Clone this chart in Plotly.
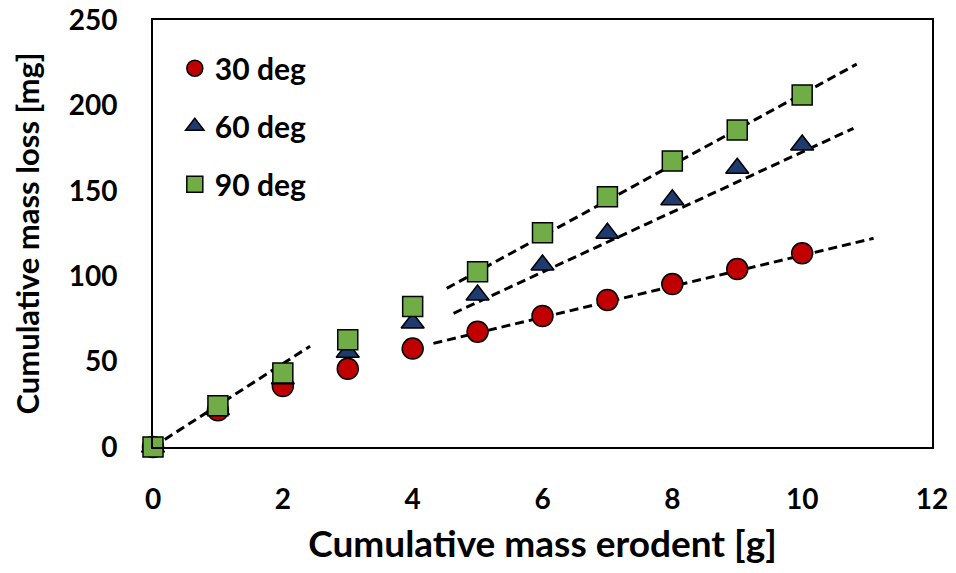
import numpy as np
import plotly.graph_objects as go

# ---- data ----
erodent_g = [0, 1, 2, 3, 4, 5, 6, 7, 8, 9, 10]
loss_30 = [0, 21.5, 35.7, 45.8, 57.6, 67.5, 76.7, 86.1, 95.4, 104.2, 113.4]
loss_60 = [0, 22.0, 40.0, 55.5, 72.6, 89.0, 106.6, 125.1, 144.8, 163.2, 176.8]
loss_90 = [0, 24.2, 43.3, 62.8, 82.2, 102.6, 125.4, 146.5, 167.4, 185.6, 206.1]

# linear trend lines: (x start, x end, slope, intercept)
trend_initial = (0.0, 2.42, 24.4, 0.0)
trend_30 = (4.32, 11.10, 9.07, 21.5)
trend_60 = (4.63, 10.79, 17.58, -3.1)
trend_90 = (4.525, 10.84, 20.79, -1.2)

series_names = ["30 deg", "60 deg", "90 deg"]
x_ticks = [0, 2, 4, 6, 8, 10, 12]
y_ticks = [0, 50, 100, 150, 200, 250]

FONT = "Lato"
fig = go.Figure()

# trend lines first (drawn under markers)
for t in [trend_initial, trend_30, trend_60, trend_90]:
    xs = np.array([t[0], t[1]])
    ys = t[2] * xs + t[3]
    fig.add_trace(go.Scatter(x=xs, y=ys, mode="lines", showlegend=False,
                             line=dict(color="black", width=3, dash="9px,5px"),
                             hoverinfo="skip"))

styles = [
    (loss_30, "circle", "#C00000", 21),
    (loss_60, "triangle-up", "#1F3A6E", 20),
    (loss_90, "square", "#70AD47", 20),
]
for name, (vals, sym, col, sz) in zip(series_names, styles):
    fig.add_trace(go.Scatter(
        x=erodent_g, y=vals, mode="markers", name=name, legendgroup=name,
        cliponaxis=False,
        marker=dict(symbol=sym, size=sz, color=col, line=dict(color="black", width=1.5)),
    ))

axis_common = dict(showline=True, linecolor="#000000", linewidth=2, mirror=True,
                   showgrid=False, zeroline=False, ticks="", automargin=False,
                   tickfont=dict(family=FONT, size=28, color="black", weight="bold"))

fig.update_layout(
    width=956, height=573,
    margin=dict(l=153, r=24, t=20, b=126),
    paper_bgcolor="white", plot_bgcolor="white",
    font=dict(family=FONT, color="black"),
    xaxis=dict(range=[0, 12], tickvals=x_ticks, ticklabelstandoff=26,
               title=dict(text="<b>Cumulative mass erodent [g]</b>",
                          font=dict(family=FONT, size=37, color="black"), standoff=18),
               **axis_common),
    yaxis=dict(range=[0, 250], tickvals=y_ticks, ticklabelstandoff=28,
               title=dict(text="<b>Cumulative mass loss [mg]</b>",
                          font=dict(family=FONT, size=31, color="black"), standoff=20),
               **axis_common),
    legend=dict(x=0.028, y=0.948, xanchor="left", yanchor="top",
                bgcolor="rgba(0,0,0,0)", tracegroupgap=16,
                font=dict(family=FONT, size=30, color="black", weight="bold"),
                itemwidth=30),
)

fig.write_html("out.html", config={"displayModeBar": False},
               post_script="document.body.style.margin='0';")
